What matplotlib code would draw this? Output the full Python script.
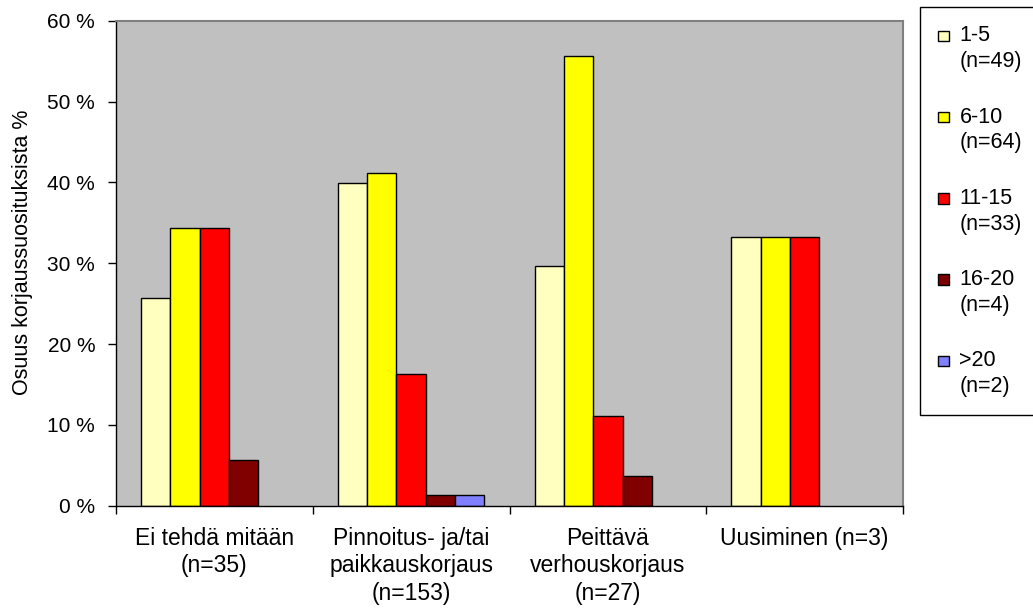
import matplotlib.pyplot as plt
import numpy as np
from matplotlib.legend_handler import HandlerPatch
from matplotlib.patches import Rectangle
from matplotlib.ticker import FixedLocator, FuncFormatter

plt.rcParams["font.family"] = ["Liberation Sans", "DejaVu Sans"]

categories = [
    "Ei tehdä mitään\n(n=35)",
    "Pinnoitus- ja/tai\npaikkauskorjaus\n(n=153)",
    "Peittävä\nverhouskorjaus\n(n=27)",
    "Uusiminen (n=3)",
]
series_labels = ["1-5\n(n=49)", "6-10\n(n=64)", "11-15\n(n=33)", "16-20\n(n=4)", ">20\n(n=2)"]
colors = ["#FFFFC0", "#FFFF00", "#FF0000", "#800000", "#8080FF"]

# share of recommendations, %
s_1_5 = [25.7, 39.9, 29.6, 33.3]
s_6_10 = [34.3, 41.2, 55.6, 33.3]
s_11_15 = [34.3, 16.3, 11.1, 33.3]
s_16_20 = [5.7, 1.3, 3.7, 0.0]
s_over_20 = [0.0, 1.3, 0.0, 0.0]
values = [s_1_5, s_6_10, s_11_15, s_16_20, s_over_20]


class FirstLinePatch(HandlerPatch):
    # legend square sits next to the first text line
    def create_artists(self, legend, orig_handle, xdescent, ydescent, width, height, fontsize, trans):
        size = 10.5 * 72 / legend.figure.dpi
        p = Rectangle((-xdescent, -ydescent + height * 0.5 + 0.62 * fontsize - size / 2), size, size,
                      facecolor=orig_handle.get_facecolor(), edgecolor="black", linewidth=1.0,
                      transform=trans)
        return [p]


fig = plt.figure(figsize=(10.33, 6.10), dpi=100)
ax = fig.add_axes([0.1123, 0.171, 0.7619, 0.795])
ax.set_facecolor("#C0C0C0")

x = np.arange(len(categories))
width = 0.149
handles = []
for i, (vals, col, lab) in enumerate(zip(values, colors, series_labels)):
    heights = [v if v > 0 else np.nan for v in vals]
    bars = ax.bar(x + (i - 2) * width, heights, width, color=col, edgecolor="black",
                  linewidth=1.0, label=lab)
    handles.append(bars[0])

ax.set_xlim(-0.5, len(categories) - 0.5)
ax.set_ylim(0, 60)
ax.yaxis.set_major_locator(FixedLocator(np.arange(0, 61, 10)))
ax.yaxis.set_major_formatter(FuncFormatter(lambda v, _: f"{int(v)} %"))
ax.set_xticks(x)
ax.set_xticklabels(categories, linespacing=1.26)
ax.tick_params(axis="x", length=0, pad=15, labelsize=16.5)
ax.set_xticks(np.arange(-0.5, len(categories), 1.0), minor=True)
ax.tick_params(axis="x", which="minor", length=6, width=1, color="black", direction="out")
ax.tick_params(axis="y", length=6, width=1, direction="out", labelsize=15, pad=9)
ax.set_ylabel("Osuus korjaussuosituksista %", fontsize=15.5)
ax.yaxis.set_label_coords(-0.105, 0.523)

for side in ["top", "right"]:
    ax.spines[side].set_color("#808080")
    ax.spines[side].set_linewidth(1.5)
for side in ["left", "bottom"]:
    ax.spines[side].set_color("black")
    ax.spines[side].set_linewidth(1.0)

leg = fig.legend(handles=handles, labels=series_labels, loc="upper left",
                 bbox_to_anchor=(0.8906, 0.9885), fontsize=15.5, frameon=True, fancybox=False,
                 edgecolor="black", framealpha=1.0, borderpad=0.85, labelspacing=1.6,
                 handlelength=0.68, handletextpad=0.3, borderaxespad=0,
                 handler_map={Rectangle: FirstLinePatch()})
leg.get_frame().set_linewidth(1.0)
for t in leg.get_texts():
    t.set_linespacing(1.3)

fig.savefig("out.png", dpi=100)
